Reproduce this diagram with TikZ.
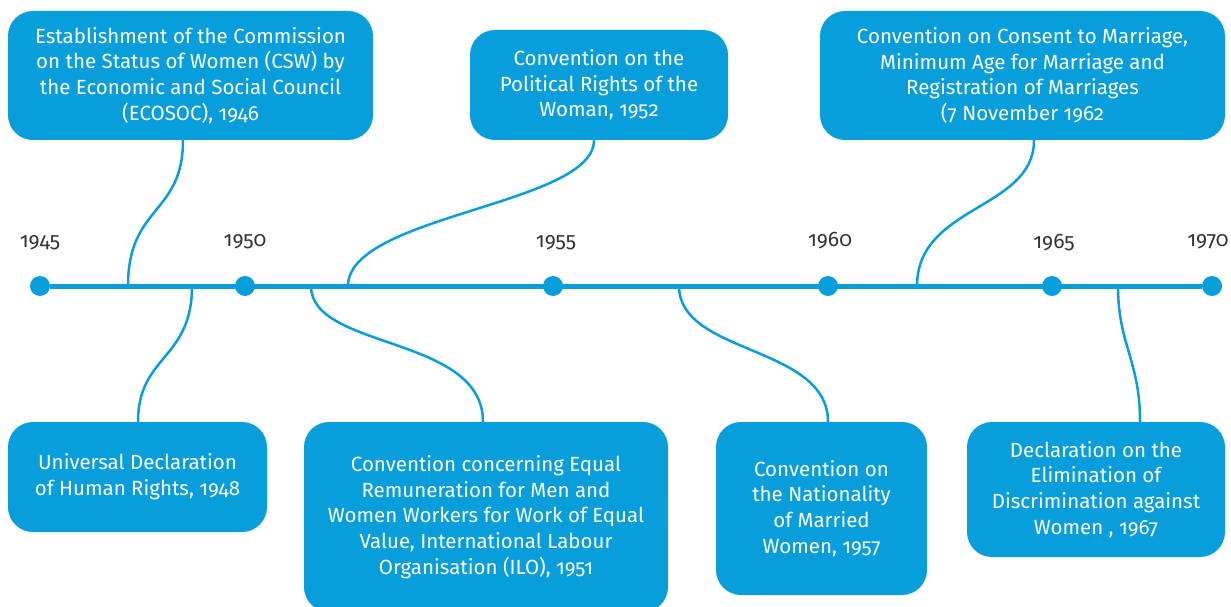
\documentclass[tikz,border=0pt]{standalone}
\usepackage{fontspec}
\setmainfont{Fira Sans}[Numbers=OldStyle]
\usepackage{tikz}
\definecolor{unblue}{RGB}{8,158,219}
\definecolor{yeargray}{RGB}{51,51,51}
\tikzset{box/.style={draw=none,fill=unblue,rounded corners=25pt,text=white,align=center,
   font=\fontsize{20.5}{25.7}\selectfont,inner sep=0pt},
 yeardot/.style={circle,fill=unblue,minimum size=20pt,inner sep=0pt},
 yearlabel/.style={text=yeargray,font=\fontsize{21}{24}\selectfont},
 axisline/.style={draw=unblue,line width=5pt},
 link/.style={draw=unblue,line width=2.5pt},
 }

\begin{document}
\begin{tikzpicture}[x=1pt,y=-1pt]
        \useasboundingbox (0,0) rectangle (1231,607);

        \node[yeardot] (y45) at (40,286) {};
        \node[yeardot] (y50) at (245,286) {};
        \node[yeardot] (y55) at (553,286) {};
        \node[yeardot] (y60) at (828,286) {};
        \node[yeardot] (y65) at (1052,286) {};
        \node[yeardot] (y70) at (1212,286) {};
        \draw[axisline] (y45) -- (y70);

        \node[yearlabel] (l45) at (40,243) {1945};
        \node[yearlabel] (l50) at (245,242) {1950};
        \node[yearlabel] (l55) at (556,243) {1955};
        \node[yearlabel] (l60) at (830,241) {1960};
        \node[yearlabel] (l65) at (1054,243) {1965};
        \node[yearlabel] (l70) at (1208,242) {1970};

        \node[box,minimum width=365pt,minimum height=129pt] (csw) at (190.5,75.5)
            {Establishment of the Commission\\on the Status of Women (CSW) by\\the Economic and Social Council\\(ECOSOC), 1946};
        \node[box,minimum width=258pt,minimum height=110pt] (polrights) at (599,85)
            {Convention on the\\Political Rights of the\\Woman, 1952};
        \node[box,minimum width=405pt,minimum height=129pt] (consent) at (1022.5,75.5)
            {Convention on Consent to Marriage,\\Minimum Age for Marriage and\\Registration of Marriages\\(7 November 1962};
        \node[box,minimum width=259pt,minimum height=110pt] (udhr) at (137.5,477)
            {Universal Declaration\\of Human Rights, 1948};
        \node[box,minimum width=364pt,minimum height=190pt] (equalpay) at (486,517)
            {Convention concerning Equal\\Remuneration for Men and\\Women Workers for Work of Equal\\Value, International Labour\\Organisation (ILO), 1951};
        \node[box,minimum width=211pt,minimum height=173pt] (nationality) at (821.5,508.5)
            {Convention on\\the Nationality\\of Married\\Women, 1957};
        \node[box,minimum width=258pt,minimum height=135pt] (elimination) at (1096,489.5)
            {Declaration on the\\Elimination of\\Discrimination against\\Women , 1967};

        \coordinate (a46) at (128,286);
        \coordinate (a48) at (192,286);
        \coordinate (a51) at (311,286);
        \coordinate (a52) at (348,286);
        \coordinate (a57) at (679,286);
        \coordinate (a62) at (917,286);
        \coordinate (a67) at (1118,286);

        \draw[link] (csw.south -| 183,0) .. controls (183,215) and (128,205) .. (a46);
        \draw[link] (udhr.north -| 138,0) .. controls (138,355) and (192,360) .. (a48);
        \draw[link] (equalpay.north -| 483,0) .. controls (483,335) and (311,350) .. (a51);
        \draw[link] (polrights.south -| 594,0) .. controls (594,205) and (348,215) .. (a52);
        \draw[link] (nationality.north -| 828,0) .. controls (828,345) and (679,355) .. (a57);
        \draw[link] (consent.south -| 1034,0) .. controls (1034,210) and (917,205) .. (a62);
        \draw[link] (elimination.north -| 1140,0) .. controls (1140,360) and (1118,345) .. (a67);
    \end{tikzpicture}
\end{document}
